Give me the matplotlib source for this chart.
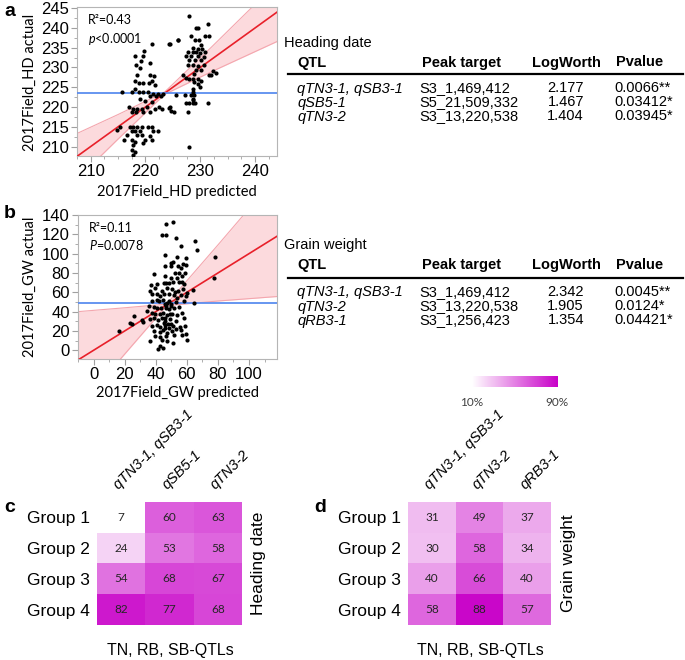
import numpy as np
import matplotlib
matplotlib.use("Agg")
import matplotlib.pyplot as plt
from matplotlib.colors import LinearSegmentedColormap
from matplotlib.ticker import MultipleLocator

plt.rcParams['font.family'] = ['Liberation Sans', 'DejaVu Sans']
plt.rcParams['mathtext.fontset'] = 'custom'
plt.rcParams['mathtext.rm'] = 'Lato'
plt.rcParams['mathtext.it'] = 'Lato:italic'

W, H = 685, 660

# ---- panel a: heading date, actual vs predicted ----
hd_pred = [221.1, 224.3, 219.7, 219.6, 218.1, 219.1, 218.3, 220.8, 219.0, 218.4, 220.9, 221.5,
           218.1, 218.9, 219.6, 220.7, 221.1, 221.7, 218.1, 215.7, 217.5, 218.9, 219.5, 220.5,
           220.8, 221.4, 222.3, 223.2, 219.0, 219.9, 221.1, 221.9, 222.8, 216.9, 217.8, 218.4,
           219.3, 220.2, 221.7, 222.5, 223.0, 224.3, 217.5, 218.3, 219.6, 220.8, 224.6, 215.3,
           217.2, 217.8, 218.4, 219.3, 220.5, 221.1, 214.8, 217.5, 218.1, 219.0, 221.4, 222.3,
           216.6, 218.4, 219.3, 220.8, 216.0, 217.5, 218.1, 219.9, 221.1, 217.8, 219.6, 217.5,
           218.1, 217.8,
           228.0, 229.2, 229.5, 231.4, 224.4, 225.9, 228.3, 229.0, 229.8, 230.8, 231.6, 230.2,
           228.7, 229.5, 230.4, 227.7, 228.6, 229.2, 230.0, 230.8, 227.4, 228.3, 229.5, 230.6,
           228.0, 229.0, 230.1, 227.7, 228.6, 229.5, 230.7, 229.2, 230.1, 228.9, 232.3, 231.6,
           231.9, 226.8, 227.4, 228.0, 228.7, 229.5, 230.1, 228.9, 229.5, 230.0, 228.6, 228.6,
           225.6, 227.2, 228.3, 228.9, 228.6, 224.4, 225.2, 227.4, 228.0, 228.6, 229.1, 231.4,
           227.8, 228.7, 228.0, 232.8, 226.0]
hd_act = [236.0, 236.0, 234.1, 232.8, 232.8, 231.6, 230.7, 231.1, 229.9, 228.2, 228.2, 227.8,
          226.5, 226.0, 226.0, 226.0, 226.5, 225.6, 224.5, 223.7, 223.7, 223.7, 223.7, 223.7,
          222.9, 223.3, 223.3, 223.3, 222.0, 221.6, 221.3, 222.9, 222.9, 220.0, 219.6, 219.6,
          219.6, 220.0, 219.6, 220.0, 219.6, 219.8, 218.8, 218.8, 218.8, 218.8, 219.0, 215.0,
          215.0, 215.0, 215.0, 215.0, 215.0, 215.0, 214.2, 213.9, 213.9, 213.9, 213.9, 213.9,
          212.8, 212.8, 212.8, 212.6, 211.6, 211.6, 211.2, 211.6, 211.6, 210.4, 210.8, 209.2,
          208.6, 207.9,
          243.1, 239.9, 239.9, 241.0, 236.0, 237.0, 238.0, 237.0, 237.0, 238.0, 238.0, 235.7,
          234.9, 234.7, 234.7, 233.9, 233.9, 233.9, 233.7, 233.9, 232.9, 232.9, 232.9, 232.6,
          231.8, 231.8, 231.8, 230.5, 230.5, 230.3, 230.5, 229.3, 229.3, 228.4, 229.0, 228.0,
          228.0, 228.0, 227.3, 227.2, 227.2, 227.0, 226.7, 226.2, 225.7, 225.1, 224.6, 223.8,
          223.0, 223.0, 223.0, 223.1, 222.1, 220.0, 218.8, 220.9, 220.9, 220.9, 220.9, 220.9,
          218.8, 221.7, 210.0, 228.5, 237.0]
hd_mean = 223.6
hd_band_x = [207.5, 215.0, 223.5, 232.0, 245.0]
hd_band_half = [5.8, 3.1, 0.3, 3.1, 7.8]

# ---- panel b: grain weight, actual vs predicted ----
gw_pred = [16.5, 23.5, 25.7, 24.6, 31.1, 31.7, 34.3, 39.1, 37.0, 37.6, 77.8, 77.4, 65.4, 66.3,
           63.7, 64.8, 46.7, 51.1, 43.9, 46.9, 52.8, 56.1, 45.9, 53.9, 59.3, 49.8, 51.3, 57.6,
           46.1, 49.6, 54.3, 59.3, 56.1, 52.2, 55.0, 58.9, 45.7, 49.6, 53.9, 57.2, 45.2, 46.9,
           51.3, 55.0, 58.3, 39.8, 44.1, 47.4, 50.7, 52.2, 57.8, 60.4, 36.1, 40.9, 42.6, 45.2,
           48.5, 53.9, 56.1, 59.3, 42.0, 44.8, 47.4, 50.0, 52.8, 58.3, 35.4, 38.7, 40.9, 43.5,
           46.3, 48.5, 51.7, 55.0, 37.6, 39.8, 42.6, 44.8, 47.4, 50.7, 53.9, 57.2, 36.5, 39.1,
           41.7, 43.9, 46.1, 49.1, 52.8, 58.3, 37.6, 40.9, 43.0, 45.7, 48.5, 51.3, 55.7, 58.9,
           38.7, 42.6, 44.8, 47.4, 50.7, 56.5, 59.3, 39.8, 43.0, 46.3, 51.7, 57.2, 60.0, 36.3,
           44.1, 47.4, 51.1, 42.6, 41.7, 44.8, 48.5, 45.7, 46.9, 50.0, 49.1, 46.1, 45.2, 48.0,
           50.0, 46.1, 52.8, 40.9, 37.6, 51.7, 54.3, 48.5, 40.9, 57.2]
gw_act = [20.0, 28.0, 35.5, 26.9, 31.0, 29.3, 40.7, 78.6, 67.6, 58.6, 96.6, 75.2, 113.0, 103.8,
          62.0, 49.3, 131.0, 133.0, 119.3, 119.3, 116.6, 107.9, 98.3, 96.6, 95.2, 90.7, 91.4, 89.7,
          87.2, 87.2, 87.2, 87.9, 84.8, 80.3, 80.3, 80.3, 76.9, 75.2, 75.2, 76.9, 70.0, 70.0,
          71.0, 71.0, 68.3, 64.8, 61.4, 64.8, 63.1, 60.7, 63.1, 59.7, 61.4, 57.9, 56.2, 58.6,
          57.9, 54.5, 56.9, 56.2, 51.0, 51.7, 49.3, 48.3, 50.3, 51.0, 45.9, 44.8, 44.1, 44.1,
          45.9, 42.4, 43.4, 44.8, 39.0, 37.9, 37.2, 39.0, 36.6, 37.9, 36.6, 39.0, 32.1, 33.1,
          31.0, 33.1, 30.3, 32.1, 30.3, 33.1, 25.2, 26.2, 24.1, 26.2, 23.4, 25.2, 24.1, 25.2,
          20.0, 19.3, 20.7, 18.3, 20.0, 20.7, 17.2, 14.8, 13.8, 14.8, 15.9, 15.9, 10.3, 9.7,
          10.3, 9.7, 7.9, 4.5, 1.0, 2.8, 51.0, 48.3, 44.1, 45.9, 37.2, 33.8, 28.6, 27.6,
          26.9, 23.4, 21.7, 51.7, 51.0, 56.9, 61.4, 70.0, 68.3, 71.0]
gw_mean = 49.0
gw_band_x = [-10.0, 20.0, 47.0, 80.0, 121.0]
gw_band_half = [50.0, 24.0, 0.8, 29.0, 65.0]

# ---- tables ----
tab_header = ["QTL", "Peak target", "LogWorth", "Pvalue"]
hd_qtl = ["qTN3-1, qSB3-1", "qSB5-1", "qTN3-2"]
hd_peak = ["S3_1,469,412", "S5_21,509,332", "S3_13,220,538"]
hd_logworth = ["2.177", "1.467", "1.404"]
hd_pvalue = ["0.0066**", "0.03412*", "0.03945*"]
gw_qtl = ["qTN3-1, qSB3-1", "qTN3-2", "qRB3-1"]
gw_peak = ["S3_1,469,412", "S3_13,220,538", "S3_1,256,423"]
gw_logworth = ["2.342", "1.905", "1.354"]
gw_pvalue = ["0.0045**", "0.0124*", "0.04421*"]

# ---- heatmaps ----
groups = ["Group 1", "Group 2", "Group 3", "Group 4"]
hd_cols = ["qTN3-1, qSB3-1", "qSB5-1", "qTN3-2"]
hd_heat = [[7, 60, 63], [24, 53, 58], [54, 68, 67], [82, 77, 68]]
gw_cols = ["qTN3-1, qSB3-1", "qTN3-2", "qRB3-1"]
gw_heat = [[31, 49, 37], [30, 58, 34], [40, 66, 40], [58, 88, 57]]

cmap = LinearSegmentedColormap.from_list("wm", ["#FFFFFF", "#C800C8"])


def fx(x):
    return x / W


def fy(y):
    return 1 - y / H


fig = plt.figure(figsize=(W / 100, H / 100), dpi=100)


def scatter_panel(rect, pred, act, mean, bx, bh, xlim, ylim, xmaj, xmin, ymaj, ymin):
    ax = fig.add_axes(rect)
    bx = np.array(bx)
    bh = np.array(bh)
    ax.fill_between(bx, bx - bh, bx + bh, color="#FCDADD", lw=0, zorder=1)
    ax.plot(bx, bx + bh, color="#F4A6AE", lw=0.8, zorder=2)
    ax.plot(bx, bx - bh, color="#F4A6AE", lw=0.8, zorder=2)
    ax.plot(bx, bx, color="#E8202A", lw=1.2, zorder=3)
    ax.axhline(mean, color="#5B8DEF", lw=1.3, zorder=3)
    ax.scatter(pred, act, s=9, color="black", lw=0, zorder=4)
    ax.set_xlim(*xlim)
    ax.set_ylim(*ylim)
    ax.xaxis.set_major_locator(MultipleLocator(xmaj))
    ax.xaxis.set_minor_locator(MultipleLocator(xmin))
    ax.yaxis.set_major_locator(MultipleLocator(ymaj))
    ax.yaxis.set_minor_locator(MultipleLocator(ymin))
    for s in ax.spines.values():
        s.set_color("#B5B5B5")
        s.set_linewidth(0.8)
    ax.tick_params(which="major", length=4, color="#A0A0A0", labelsize=12, pad=2)
    ax.tick_params(which="minor", length=2, color="#A0A0A0")
    return ax


ax_a = scatter_panel([fx(77), fy(156), 200 / W, 149 / H], hd_pred, hd_act, hd_mean,
                     hd_band_x, hd_band_half, (207.5, 244.0), (207.6, 245.3), 10, 2.5, 5, 2.5)
ax_a.text(0.055, 0.95, "R\u00b2=0.43", transform=ax_a.transAxes, family="Lato", fontsize=9, va="top")
ax_a.text(0.055, 0.84, r"$p$<0.0001", transform=ax_a.transAxes, family="Lato", fontsize=9, va="top")

ax_b = scatter_panel([fx(78), fy(359), 199 / W, 144 / H], gw_pred, gw_act, gw_mean,
                     gw_band_x, gw_band_half, (-10.0, 118.0), (-9.0, 140.0), 20, 10, 20, 10)
ax_b.text(0.055, 0.95, "R\u00b2=0.11", transform=ax_b.transAxes, family="Lato", fontsize=9, va="top")
ax_b.text(0.055, 0.84, r"$P$=0.0078", transform=ax_b.transAxes, family="Lato", fontsize=9, va="top")

fig.text(fx(30), fy(82), "2017Field_HD actual", family="Lato", fontsize=10.5, rotation=90, ha="center", va="center")
fig.text(fx(177), fy(192), "2017Field_HD predicted", family="Lato", fontsize=10.5, ha="center", va="center")
fig.text(fx(30), fy(287), "2017Field_GW actual", family="Lato", fontsize=10.5, rotation=90, ha="center", va="center")
fig.text(fx(177), fy(393), "2017Field_GW predicted", family="Lato", fontsize=10.5, ha="center", va="center")

for lab, x, y in [("a", 10, 12), ("b", 10, 214), ("c", 10, 508), ("d", 320, 508)]:
    fig.text(fx(x), fy(y), lab, fontsize=14, fontweight="bold", ha="center", va="center")


# ---- tables as text ----
def draw_table(title, title_y, header_y, rule_y, row_ys, qtl, peak, lw_vals, pvals):
    fs = 10.5
    fig.text(fx(284), fy(title_y), title, fontsize=fs, va="center")
    hx = [297, 422, 532, 616]
    for h, x in zip(tab_header, hx):
        fig.text(fx(x), fy(header_y), h, fontsize=fs, fontweight="bold", va="center")
    fig.add_artist(plt.Line2D([fx(288), fx(683)], [fy(rule_y), fy(rule_y)], color="black", lw=1.6))
    for i, y in enumerate(row_ys):
        fig.text(fx(297), fy(y), qtl[i], fontsize=fs, style="italic", va="center")
        fig.text(fx(419), fy(y), peak[i], fontsize=fs, va="center")
        fig.text(fx(584), fy(y), lw_vals[i], fontsize=fs, va="center", ha="right")
        fig.text(fx(614), fy(y), pvals[i], fontsize=fs, va="center")


draw_table("Heading date", 42.5, 62.5, 73.5, [88.5, 102.5, 116.5], hd_qtl, hd_peak, hd_logworth, hd_pvalue)
draw_table("Grain weight", 244.5, 265, 277.5, [292.5, 306.5, 320.5], gw_qtl, gw_peak, gw_logworth, gw_pvalue)


# ---- heatmaps ----
def heat_panel(left, right, vals, cols, side_label, bottom_center):
    ax = fig.add_axes([fx(left), fy(625), (right - left) / W, 123 / H])
    arr = np.array(vals)
    im = ax.imshow(arr, cmap=cmap, vmin=10, vmax=90, aspect="auto")
    for r in range(arr.shape[0]):
        for c in range(arr.shape[1]):
            ax.text(c, r, str(arr[r, c]), ha="center", va="center", family="Lato",
                    fontsize=8.5, color="#262626")
    ax.set_yticks(range(len(groups)))
    ax.set_yticklabels(groups, fontsize=12.5)
    ax.xaxis.tick_top()
    ax.set_xticks(range(len(cols)))
    ax.set_xticklabels(cols, rotation=45, ha="left", rotation_mode="anchor",
                       style="italic", fontsize=10.5)
    ax.tick_params(length=0, pad=5)
    ax.tick_params(axis="x", pad=7)
    for s in ax.spines.values():
        s.set_visible(False)
    ax.text(1 + 17 / (right - left), 0.5, side_label, transform=ax.transAxes,
            rotation=90, ha="center", va="center", fontsize=12.5)
    fig.text(fx(bottom_center), fy(650), "TN, RB, SB-QTLs", fontsize=11.5, ha="center", va="center")
    return im


im_c = heat_panel(97, 242, hd_heat, hd_cols, "Heading date", 170)
im_d = heat_panel(408, 551, gw_heat, gw_cols, "Grain weight", 480)

cax = fig.add_axes([fx(472), fy(387), 86 / W, 11 / H])
cb = fig.colorbar(im_d, cax=cax, orientation="horizontal")
cb.outline.set_visible(False)
cb.set_ticks([])
fig.text(fx(472), fy(403), "10%", family="Lato", fontsize=8.5, color="#404040", ha="center", va="center")
fig.text(fx(557), fy(403), "90%", family="Lato", fontsize=8.5, color="#404040", ha="center", va="center")

fig.savefig("out.png", dpi=100)
